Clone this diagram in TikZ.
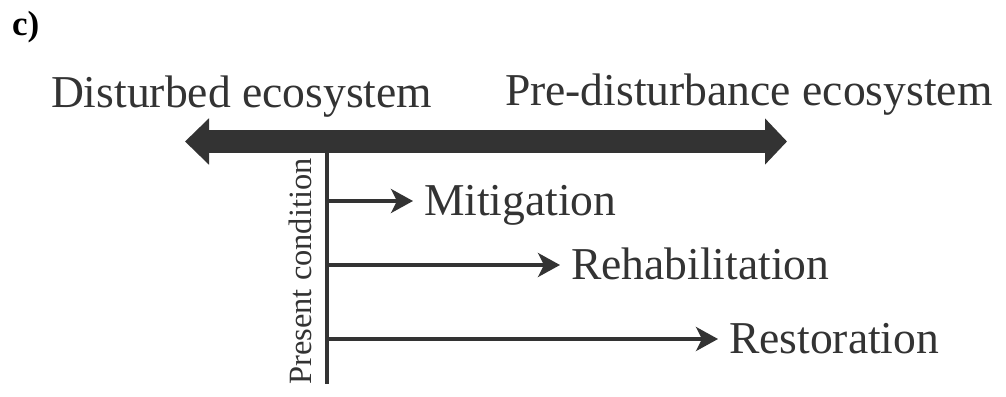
\documentclass[tikz,border=0pt]{standalone}
\usepackage{fontspec}
\setmainfont{Liberation Serif}
\usetikzlibrary{arrows.meta}

\definecolor{ink}{HTML}{333333}
\tikzset{
	lbl/.style={inner sep=0pt, outer sep=0pt, text=ink, font=\fontsize{45.6}{50}\selectfont},
	smallarrow/.style={ink, line width=3.5pt, -{Stealth[length=22pt,width=24pt,inset=6pt]}},
}

\begin{document}
\begin{tikzpicture}[x=1pt,y=-1pt]
	\useasboundingbox (0,0) rectangle (1006,396);

	\node[inner sep=0pt, anchor=base west, text=black, font=\fontsize{35}{38}\selectfont\bfseries] (panel) at (12,36) {c)};

	\node[lbl, anchor=base west] (disturbed) at (51,107) {Disturbed ecosystem};
	\node[lbl, anchor=base west] (predist) at (505,105) {Pre-disturbance ecosystem};

	% present condition bar
	\coordinate (bartop) at (327,141.5);
	\coordinate (barbot) at (327,384);
	\draw[ink, line width=3.5pt] (bartop) -- (barbot);
	\node[rotate=90, anchor=base, inner sep=0pt, text=ink, font=\fontsize{32.5}{36}\selectfont] (present) at (311,271.5) {Present condition};

	% gradient arrow
	\coordinate (leftend) at (185,141.5);
	\coordinate (rightend) at (787,141.5);
	\draw[ink, line width=23pt, {Triangle[length=24pt,width=45pt]}-{Triangle[length=22pt,width=45pt]}] (leftend) -- (rightend);

	\foreach \name/\y/\x/\txt in {mitig/215/413/Mitigation, rehab/279/560/Rehabilitation, restor/353/718/Restoration} {
		\node[lbl, anchor=base west, inner xsep=11pt] (\name) at (\x,\y) {\txt};
		\coordinate (\name tip) at ([yshift=14pt]\name.base west);
		\draw[smallarrow] (bartop |- \name tip) -- (\name tip);
	}
\end{tikzpicture}
\end{document}
